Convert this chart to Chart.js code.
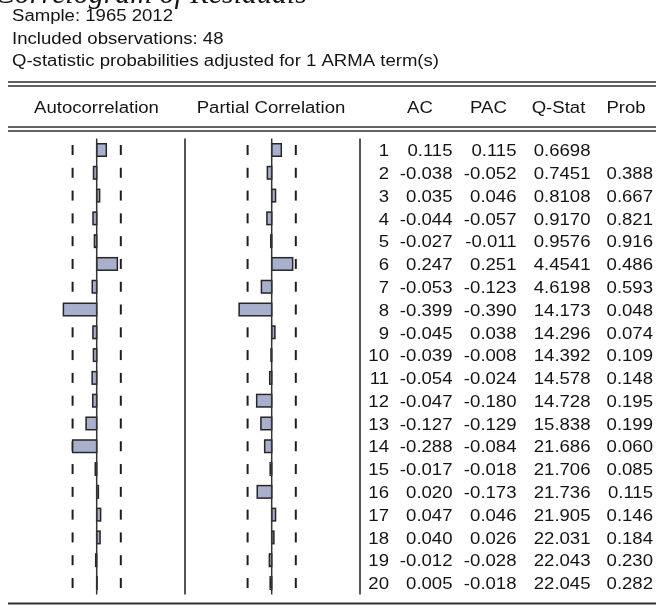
<!DOCTYPE html>
<html>
<head>
<meta charset="utf-8">
<script src="https://cdn.jsdelivr.net/npm/chart.js@4.4.0/dist/chart.umd.min.js"></script>
<style>
  html, body { margin: 0; padding: 0; background: #ffffff; }
  #wrap { width: 656px; height: 608px; position: relative; }
</style>
</head>
<body>
<div id="wrap"><canvas id="c" width="656" height="608"></canvas></div>
<script>
// ---- correlogram data ----
const lags = [1, 2, 3, 4, 5, 6, 7, 8, 9, 10, 11, 12, 13, 14, 15, 16, 17, 18, 19, 20];
const acValues = [0.115, -0.038, 0.035, -0.044, -0.027, 0.247, -0.053, -0.399, -0.045, -0.039,
                  -0.054, -0.047, -0.127, -0.288, -0.017, 0.020, 0.047, 0.040, -0.012, 0.005];
const pacValues = [0.115, -0.052, 0.046, -0.057, -0.011, 0.251, -0.123, -0.390, 0.038, -0.008,
                   -0.024, -0.180, -0.129, -0.084, -0.018, -0.173, 0.046, 0.026, -0.028, -0.018];
const qStats = [0.6698, 0.7451, 0.8108, 0.9170, 0.9576, 4.4541, 4.6198, 14.173, 14.296, 14.392,
                14.578, 14.728, 15.838, 21.686, 21.706, 21.736, 21.905, 22.031, 22.043, 22.045];
const probs = [null, 0.388, 0.667, 0.821, 0.916, 0.486, 0.593, 0.048, 0.074, 0.109,
               0.148, 0.195, 0.199, 0.060, 0.085, 0.115, 0.146, 0.184, 0.230, 0.282];
const nObs = 48;
const titleText = 'Correlogram of Residuals';
const headerLines = ['Sample: 1965 2012', 'Included observations: 48',
                     'Q-statistic probabilities adjusted for 1 ARMA term(s)'];
const columnHeads = ['Autocorrelation', 'Partial Correlation', 'AC', 'PAC', 'Q-Stat', 'Prob'];

// ---- layout ----
const W = 656;
const AREA_LEFT = 8;
const PX_PER_UNIT = 83.5;
const AC_ZERO_PX = 96.7;
const PAC_ZERO_PX = 271.7;
const bound = 2 / Math.sqrt(nObs);

const TEXT_FONT = '16px "Liberation Sans", Arial, sans-serif';
const STRETCH = 1.16;
const INK = '#141414';
const RULE = '#2e2e2e';

function stretchedText(ctx, str, x, y, align) {
  ctx.save();
  ctx.translate(x, y);
  ctx.scale(STRETCH, 1);
  ctx.textAlign = align;
  ctx.textBaseline = 'alphabetic';
  ctx.fillText(str, 0, 0);
  ctx.restore();
}

function hLine(ctx, y, x0, x1, w) {
  ctx.beginPath();
  ctx.lineWidth = w;
  ctx.moveTo(x0, y);
  ctx.lineTo(x1, y);
  ctx.stroke();
}

function vLine(ctx, x, y0, y1, w) {
  ctx.beginPath();
  ctx.lineWidth = w;
  ctx.moveTo(x, y0);
  ctx.lineTo(x, y1);
  ctx.stroke();
}

const fmt3 = v => v.toFixed(3);
const fmtQ = v => (v < 10 ? v.toFixed(4) : v.toFixed(3));

const correlogramPlugin = {
  id: 'correlogram',
  beforeDatasetsDraw(chart) {
    const { ctx, scales } = chart;
    const y = scales.y;
    ctx.save();
    ctx.strokeStyle = '#1e1e1e';
    // dashed +/- 2 s.e. bounds, one short stroke per lag row
    for (const id of ['xac', 'xpac']) {
      const sc = scales[id];
      const xl = sc.getPixelForValue(-bound);
      const xr = sc.getPixelForValue(bound);
      lags.forEach((lag, i) => {
        const cy = y.getPixelForValue(i);
        vLine(ctx, xl, cy - 5, cy + 5, 2);
        vLine(ctx, xr, cy - 5, cy + 5, 2);
      });
    }
    ctx.restore();
  },
  afterDatasetsDraw(chart) {
    const { ctx, scales, chartArea } = chart;
    ctx.save();
    // bar outlines
    ctx.strokeStyle = '#262626';
    ctx.lineWidth = 1.5;
    chart.data.datasets.forEach((ds, di) => {
      chart.getDatasetMeta(di).data.forEach(bar => {
        const p = bar.getProps(['x', 'y', 'base', 'height'], true);
        const x0 = Math.min(p.x, p.base);
        const w = Math.abs(p.x - p.base);
        ctx.strokeRect(x0, p.y - p.height / 2, w, p.height);
      });
    });
    // zero lines of both panels
    ctx.strokeStyle = '#333333';
    vLine(ctx, scales.xac.getPixelForValue(0), chartArea.top, chartArea.bottom, 1.5);
    vLine(ctx, scales.xpac.getPixelForValue(0), chartArea.top, chartArea.bottom, 1.5);
    // panel separators
    ctx.strokeStyle = '#555555';
    vLine(ctx, 185, chartArea.top, chartArea.bottom, 2);
    vLine(ctx, 360, chartArea.top, chartArea.bottom, 2);
    ctx.restore();
  },
  afterDraw(chart) {
    const { ctx, scales } = chart;
    const y = scales.y;
    ctx.save();

    // title
    ctx.fillStyle = INK;
    ctx.font = 'italic 30px "Liberation Serif", "Times New Roman", serif';
    ctx.textAlign = 'right';
    ctx.textBaseline = 'alphabetic';
    ctx.fillText(titleText, 307, 3);

    // header block
    ctx.font = TEXT_FONT;
    stretchedText(ctx, headerLines[0], 12, 21, 'left');
    stretchedText(ctx, headerLines[1], 12, 43.5, 'left');
    stretchedText(ctx, headerLines[2], 12, 66, 'left');

    // rules
    ctx.strokeStyle = RULE;
    hLine(ctx, 82, AREA_LEFT, W, 1.4);
    hLine(ctx, 86, AREA_LEFT, W, 1.4);
    hLine(ctx, 127, AREA_LEFT, W, 1.4);
    hLine(ctx, 131, AREA_LEFT, W, 1.4);
    hLine(ctx, 603.5, AREA_LEFT, W, 2);

    // column headings
    const headY = 112.5;
    stretchedText(ctx, columnHeads[0], 96.5, headY, 'center');
    stretchedText(ctx, columnHeads[1], 271, headY, 'center');
    stretchedText(ctx, columnHeads[2], 420, headY, 'center');
    stretchedText(ctx, columnHeads[3], 488.5, headY, 'center');
    stretchedText(ctx, columnHeads[4], 558.5, headY, 'center');
    stretchedText(ctx, columnHeads[5], 626, headY, 'center');

    // table body
    lags.forEach((lag, i) => {
      const by = y.getPixelForValue(i) + 6.2;
      stretchedText(ctx, String(lag), 389, by, 'right');
      stretchedText(ctx, fmt3(acValues[i]), 452.5, by, 'right');
      stretchedText(ctx, fmt3(pacValues[i]), 516.5, by, 'right');
      stretchedText(ctx, fmtQ(qStats[i]), 590.5, by, 'right');
      if (probs[i] !== null) stretchedText(ctx, fmt3(probs[i]), 653, by, 'right');
    });
    ctx.restore();
  }
};

const areaWidth = W - AREA_LEFT;
const barFill = '#a9b0ce';

new Chart(document.getElementById('c'), {
  type: 'bar',
  data: {
    labels: lags.map(String),
    datasets: [
      { label: 'AC', data: acValues, xAxisID: 'xac', yAxisID: 'y',
        backgroundColor: barFill, borderWidth: 0, grouped: false, barThickness: 12.5 },
      { label: 'PAC', data: pacValues, xAxisID: 'xpac', yAxisID: 'y',
        backgroundColor: barFill, borderWidth: 0, grouped: false, barThickness: 12.5 }
    ]
  },
  options: {
    indexAxis: 'y',
    responsive: false,
    animation: false,
    devicePixelRatio: 1,
    layout: { padding: { left: AREA_LEFT, right: 0, top: 138.6, bottom: 13.6 } },
    plugins: { legend: { display: false }, title: { display: false }, tooltip: { enabled: false } },
    scales: {
      y: { type: 'category', display: false, offset: true, grid: { display: false } },
      xac: {
        type: 'linear', display: false, position: 'bottom',
        min: -(AC_ZERO_PX - AREA_LEFT) / PX_PER_UNIT,
        max: (AREA_LEFT + areaWidth - AC_ZERO_PX) / PX_PER_UNIT
      },
      xpac: {
        type: 'linear', display: false, position: 'bottom',
        min: -(PAC_ZERO_PX - AREA_LEFT) / PX_PER_UNIT,
        max: (AREA_LEFT + areaWidth - PAC_ZERO_PX) / PX_PER_UNIT
      }
    }
  },
  plugins: [correlogramPlugin]
});
</script>
</body>
</html>
